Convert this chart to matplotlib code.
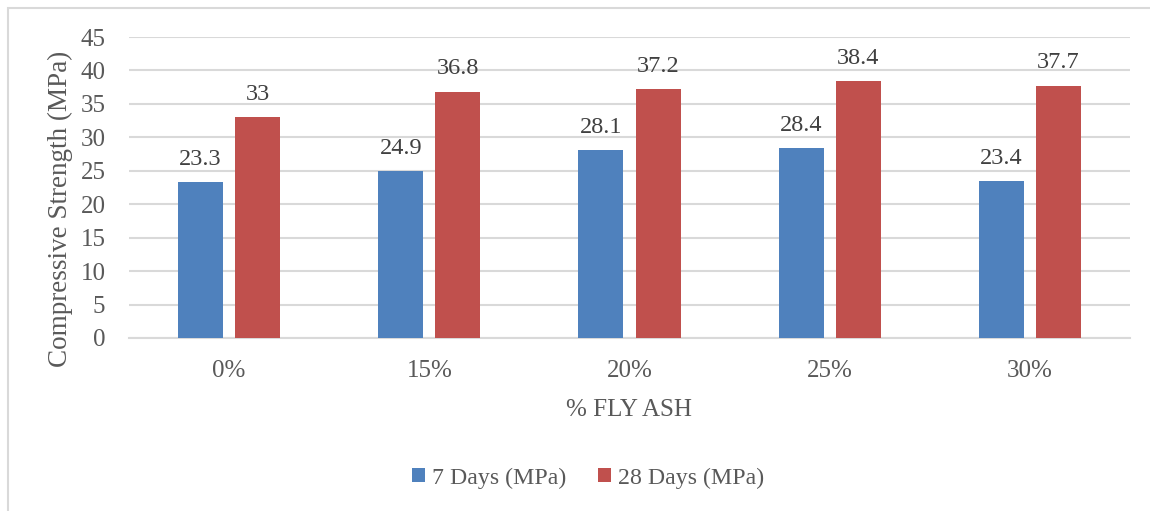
import matplotlib
matplotlib.use("Agg")
import matplotlib.pyplot as plt
from matplotlib.patches import Rectangle
import numpy as np

categories = ["0%", "15%", "20%", "25%", "30%"]
days7 = [23.3, 24.9, 28.1, 28.4, 23.4]
days28 = [33, 36.8, 37.2, 38.4, 37.7]
series_names = ["7 Days (MPa)", "28 Days (MPa)"]
yticks = [0, 5, 10, 15, 20, 25, 30, 35, 40, 45]

plt.rcParams['font.family'] = ['Liberation Serif', 'DejaVu Serif']
W, H = 1150, 511
fig = plt.figure(figsize=(W/100, H/100), dpi=100)
ax = fig.add_axes([129/W, 1-338/H, 1001/W, 301/H])

gray = "#595959"
lab = "#404040"
grid = "#D9D9D9"
x = np.arange(len(categories))
bw = 0.225
off = 0.1425
b1 = ax.bar(x - off, days7, bw, color="#4F81BD", label=series_names[0], zorder=3)
b2 = ax.bar(x + off, days28, bw, color="#C0504D", label=series_names[1], zorder=3)
for bars, vals in ((b1, days7), (b2, days28)):
    for r, v in zip(bars, vals):
        ax.annotate(f"{v:g}", (r.get_x() + r.get_width()/2, v), xytext=(0, 9),
                    textcoords="offset points", ha="center", va="bottom",
                    fontsize=17.5, color=lab)

ax.set_xlim(-0.5, len(categories) - 0.5)
ax.set_ylim(0, 45)
ax.set_yticks(yticks)
ax.set_xticks(x)
ax.set_xticklabels(categories)
ax.tick_params(axis='both', length=0, labelsize=18, colors=gray)
ax.tick_params(axis='y', pad=17)
ax.tick_params(axis='x', pad=16)
ax.yaxis.grid(True, color=grid, linewidth=1.5, zorder=0)
ax.set_axisbelow(True)
for s in ("top", "right", "left"):
    ax.spines[s].set_visible(False)
ax.spines["bottom"].set_color(grid)
ax.spines["bottom"].set_linewidth(1.5)

ax.set_xlabel("% FLY ASH", fontsize=18, color=gray, labelpad=12)
ax.set_ylabel("Compressive Strength (MPa)", fontsize=19.5, color=gray)
ax.yaxis.set_label_coords((60 - 129) / 1001, (338 - 209) / 301)
ax.yaxis.label.set_va("center")

leg = fig.legend(handles=[b1, b2], loc="center", bbox_to_anchor=(588/W, 1-478/H),
                 ncol=2, frameon=False, fontsize=17.2, handlelength=0.55, handleheight=0.55,
                 handletextpad=0.3, columnspacing=1.3, labelcolor=gray)

fig.patches.append(Rectangle((7.5/W, -0.2), 1.2, 1.2 - 7.5/H, transform=fig.transFigure,
                             fill=False, edgecolor=grid, linewidth=1.5))

fig.savefig("out.png", dpi=100)
